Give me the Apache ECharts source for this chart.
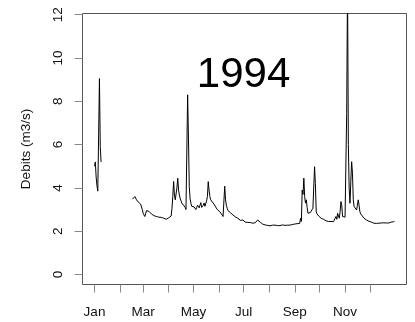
<!DOCTYPE html>
<html>
<head>
<meta charset="utf-8">
<script src="https://cdn.jsdelivr.net/npm/echarts@6/dist/echarts.min.js"></script>
<style>
html,body{margin:0;padding:0;background:#fff;}
#chart{width:415px;height:322px;}
</style>
</head>
<body>
<div id="chart"></div>
<script>
// Daily discharge, 1994 (day 0 = 1 Jan)
var janStartDay = 0;
var janFlows = [5.0, 5.2, 4.5, 4.1, 3.85, 6.4, 9.05, 5.9, 5.2];
var mainStartDay = 46;
var mainFlows = [
  3.48, 3.55, 3.5, 3.6, 3.62, 3.45, 3.4, 3.35, 3.3, 3.28,
  3.25, 3.21, 3.0, 2.83, 2.75, 2.68, 2.8, 2.95, 3.02, 2.98,
  2.92, 2.9, 2.85, 2.8, 2.78, 2.75, 2.72, 2.7, 2.7, 2.68,
  2.7, 2.66, 2.65, 2.65, 2.67, 2.64, 2.62, 2.66, 2.6, 2.6,
  2.62, 2.55, 2.52, 2.58, 2.62, 2.6, 2.66, 2.7, 3.06, 3.6,
  4.3, 3.67, 3.45, 3.5, 4.0, 4.45, 3.9, 3.67, 3.5, 3.4,
  3.3, 3.25, 3.2, 3.17, 3.1, 3.0, 2.98, 8.3, 6.3, 4.06,
  3.5, 3.29, 3.15, 3.06, 3.1, 3.12, 3.05, 3.0, 3.1, 3.2,
  3.15, 3.08, 3.2, 3.32, 3.1, 3.05, 3.2, 3.3, 3.15, 3.1,
  3.4, 3.6, 4.29, 3.9, 3.6, 3.45, 3.4, 3.35, 3.3, 3.25,
  3.2, 3.12, 3.06, 3.0, 2.95, 2.92, 2.9, 2.85, 2.8, 2.75,
  2.68, 2.7, 4.08, 3.45, 3.2, 3.06, 2.95, 2.92, 2.88, 2.85,
  2.8, 2.78, 2.75, 2.72, 2.7, 2.66, 2.68, 2.64, 2.6, 2.62,
  2.6, 2.5, 2.44, 2.48, 2.52, 2.46, 2.43, 2.42, 2.4, 2.42,
  2.41, 2.43, 2.44, 2.4, 2.38, 2.39, 2.37, 2.38, 2.4, 2.39,
  2.4, 2.45, 2.52, 2.6, 2.5, 2.42, 2.37, 2.35, 2.33, 2.31,
  2.29, 2.29, 2.28, 2.3, 2.27, 2.26, 2.28, 2.25, 2.27, 2.29,
  2.28, 2.26, 2.3, 2.28, 2.27, 2.25, 2.26, 2.28, 2.27, 2.26,
  2.25, 2.27, 2.29, 2.28, 2.26, 2.27, 2.28, 2.3, 2.28, 2.27,
  2.26, 2.28, 2.3, 2.29, 2.31, 2.32, 2.3, 2.33, 2.31, 2.34,
  2.35, 2.33, 2.32, 2.36, 2.6, 2.45, 3.9, 3.7, 4.45, 3.6,
  3.3, 3.45, 3.1, 2.83, 2.85, 2.82, 2.87, 2.9, 2.95, 3.06,
  3.0, 4.98, 4.2, 2.9, 2.8, 2.75, 2.7, 2.68, 2.65, 2.6,
  2.6, 2.57, 2.55, 2.52, 2.5, 2.48, 2.47, 2.46, 2.45, 2.44,
  2.43, 2.45, 2.42, 2.47, 2.44, 2.42, 2.5, 2.68, 2.55, 2.83,
  2.7, 2.6, 2.9, 3.37, 3.2, 2.68, 2.62, 2.6, 2.65, 2.62,
  7.44, 13.5, 6.0, 3.98, 3.29, 4.3, 5.21, 4.68, 3.45, 3.14,
  3.1, 3.05, 2.98, 3.2, 3.45, 3.2, 2.9, 2.8, 2.75, 2.7,
  2.65, 2.6, 2.58, 2.55, 2.52, 2.5, 2.48, 2.46, 2.44, 2.43,
  2.42, 2.4, 2.38, 2.37, 2.38, 2.37, 2.36, 2.37, 2.38, 2.37,
  2.36, 2.37, 2.38, 2.37, 2.38, 2.39, 2.38, 2.37, 2.38, 2.4,
  2.39, 2.38, 2.4, 2.41, 2.42, 2.43, 2.44, 2.44, 2.45
];
var yTicks = [0, 2, 4, 6, 8, 10, 12];
var monthTickIdx = [0,1,2,3,4,5,6,7,8,9,10,11];
var monthLabelIdx = [0,2,4,6,8,10];
var monthNames = ['Jan','Feb','Mar','Apr','May','Jun','Jul','Aug','Sep','Oct','Nov','Dec'];
var titleText = '1994';
var yTitle = 'Debits (m3/s)';

var DAY = 86400000;
function monthStartDay(m){ return (Date.UTC(1994, m, 1) - Date.UTC(1994, 0, 1)) / DAY; }
var data = [];
janFlows.forEach(function(v,i){ data.push([janStartDay+i, v]); });
data.push([janStartDay + janFlows.length, null]);
mainFlows.forEach(function(v,i){ data.push([mainStartDay+i, v]); });

var firstDay = janStartDay, lastDay = mainStartDay + mainFlows.length - 1;
var ext = (lastDay - firstDay) * 0.04;
var monthTicks = monthTickIdx.map(monthStartDay);
var monthLabels = monthLabelIdx.map(monthStartDay);
var labelMap = {};
monthLabelIdx.forEach(function(m){ labelMap[monthStartDay(m)] = monthNames[m]; });

var G = {left: 82.5, right: 8.5, top: 13.5, bottom: 37.5};
var font = 'Liberation Sans, Arial, sans-serif';
var chart = echarts.init(document.getElementById('chart'), null, {renderer:'canvas'});
chart.setOption({
  animation: false,
  backgroundColor: '#fff',
  grid: {left: G.left, right: G.right, top: G.top, bottom: G.bottom, show: true, borderColor: '#555', borderWidth: 1, backgroundColor: 'transparent', containLabel: false},
  graphic: {elements: [{
    type: 'text', left: 196.8, top: 54, z: 100,
    style: {text: titleText, font: '42px Liberation Sans, Arial, sans-serif', fill: '#000'}
  }]},
  xAxis: {
    type: 'value', min: firstDay - ext, max: lastDay + ext,
    axisLine: {show: false, onZero: false},
    splitLine: {show: false},
    axisTick: {show: true, customValues: monthTicks, length: 8, lineStyle: {color: '#888', width: 1}},
    axisLabel: {show: true, customValues: monthLabels, margin: 21, fontSize: 13.5, fontFamily: font, color: '#111',
      formatter: function(v){ return labelMap[v] || ''; }}
  },
  yAxis: {
    type: 'value', min: -0.461, max: 12.055,
    name: yTitle, nameLocation: 'middle', nameGap: 49, nameRotate: 90,
    nameTextStyle: {fontSize: 13.5, fontFamily: font, color: '#111'},
    axisLine: {show: false, onZero: false},
    splitLine: {show: false},
    axisTick: {show: true, customValues: yTicks, length: 8, lineStyle: {color: '#888', width: 1}},
    axisLabel: {show: true, customValues: yTicks, rotate: 90, margin: 17, fontSize: 13.5, fontFamily: font, color: '#111'}
  },
  series: [{
    type: 'line', data: data, showSymbol: false, connectNulls: false, clip: true,
    lineStyle: {color: '#000', width: 1}, silent: true
  }]
});
</script>
</body>
</html>
